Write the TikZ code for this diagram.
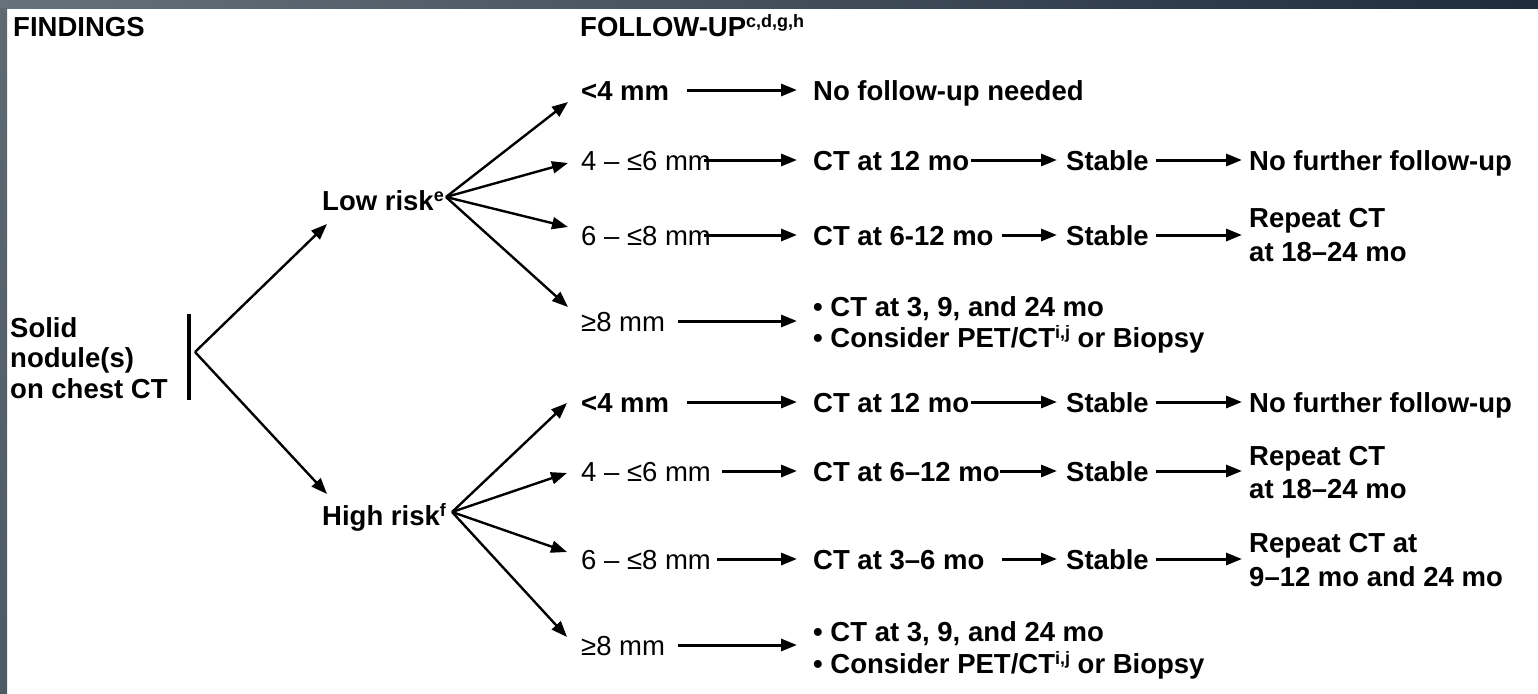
\documentclass[tikz,border=0pt]{standalone}
\usepackage{fontspec}
\setmainfont{Liberation Sans}
\usetikzlibrary{arrows.meta}
\newcommand\sups[1]{\raisebox{9pt}{\fontsize{18}{18}\selectfont #1}}
\begin{document}
\begin{tikzpicture}[x=1pt,y=-1pt,
  bt/.style={anchor=base west, inner sep=0, font=\fontsize{27.5}{32}\selectfont\bfseries},
  rt/.style={anchor=base west, inner sep=0, font=\fontsize{27.5}{32}\selectfont},
  ml/.style={anchor=north west, inner sep=0, align=left, font=\fontsize{27.5}{#1}\selectfont\bfseries},
  arr/.style={line width=3pt, -{Triangle[length=16pt,width=12pt]}},
  br/.style={line width=2.4pt, -{Triangle[length=16pt,width=12pt]}},
]
\useasboundingbox (0,0) rectangle (1538,693);
\fill[white] (0,0) rectangle (1538,693);
\shade[left color={rgb,255:red,102;green,114;blue,123}, right color={rgb,255:red,31;green,44;blue,59}] (0,0) rectangle (1538,8.5);
\shade[top color={rgb,255:red,94;green,105;blue,114}, bottom color={rgb,255:red,78;green,90;blue,100}] (0,8.5) rectangle (7,693);

% headers
\node[bt] (find) at (13,37) {FINDINGS};
\node[bt] (fup) at (580,37) {FOLLOW-UP\sups{c,d,g,h}};

% root
\node[ml=30.5] (solid) at (10,317) {Solid\\nodule(s)\\on chest CT};
\draw[line width=3.2pt] (189,314) -- (189,400);
\coordinate (apex) at (195,352);

\node[bt] (low) at (322,210) {Low risk\sups{e}};
\node[bt] (high) at (322,525) {High risk\sups{f}};
\draw[br] (apex) -- ([shift={(5,14)}]low.base west);
\draw[br] (apex) -- ([shift={(5,-31)}]high.base west);
\coordinate (lof) at ([shift={(2,-13)}]low.base east);
\coordinate (hif) at ([shift={(6,-13)}]high.base east);

% low risk rows
\node[bt] (l1) at (581,100) {<4 mm};
\node[rt] (l2) at (581,170) {4 – ≤6 mm};
\node[rt] (l3) at (581,245) {6 – ≤8 mm};
\node[rt] (l4) at (581,331) {≥8 mm};
\draw[br] (lof) -- ([shift={(-13,2)}]l1.base west);
\draw[br] (lof) -- ([shift={(-13,-7)}]l2.base west);
\draw[br] (lof) -- ([shift={(-13,-18)}]l3.base west);
\draw[br] (lof) -- ([shift={(-13,-24)}]l4.base west);

\node[bt] (l1b) at (813,100) {No follow-up needed};
\node[bt] (l2b) at (813,170) {CT at 12 mo};
\node[bt] (l3b) at (813,245) {CT at 6-12 mo};
\node[ml=31] (l4b) at (813,296) {• CT at 3, 9, and 24 mo\\• Consider PET/CT\sups{i,j} or Biopsy};
\draw[arr] ([shift={(18,-10)}]l1.base east) -- ([shift={(-16,-10)}]l1b.base west);
\draw[arr] ([shift={(-7,-10)}]l2.base east) -- ([shift={(-16,-10)}]l2b.base west);
\draw[arr] ([shift={(-7,-10)}]l3.base east) -- ([shift={(-16,-10)}]l3b.base west);
\draw[arr] ([shift={(13,-10)}]l4.base east) -- ([shift={(-16,-10)}]l4.base east -| l4b.west);

\node[bt] (l2c) at (1066,170) {Stable};
\node[bt] (l3c) at (1066,245) {Stable};
\draw[arr] ([shift={(2,-10)}]l2b.base east) -- ([shift={(-9,-10)}]l2c.base west);
\draw[arr] ([shift={(8,-10)}]l3b.base east) -- ([shift={(-9,-10)}]l3c.base west);

\node[bt] (l2d) at (1249,170) {No further follow-up};
\node[ml=34] (l3d) at (1249,208) {Repeat CT\\at 18–24 mo};
\draw[arr] ([shift={(7,-10)}]l2c.base east) -- ([shift={(-7,-10)}]l2d.base west);
\draw[arr] ([shift={(7,-10)}]l3c.base east) -- ([shift={(-7,-10)}]l3c.base east -| l3d.west);

% high risk rows
\node[bt] (h1) at (581,412) {<4 mm};
\node[rt] (h2) at (581,481) {4 – ≤6 mm};
\node[rt] (h3) at (581,569) {6 – ≤8 mm};
\node[rt] (h4) at (581,655) {≥8 mm};
\draw[br] (hif) -- ([shift={(-14,-9)}]h1.base west);
\draw[br] (hif) -- ([shift={(-14,-8)}]h2.base west);
\draw[br] (hif) -- ([shift={(-14,-17)}]h3.base west);
\draw[br] (hif) -- ([shift={(-14,-18)}]h4.base west);

\node[bt] (h1b) at (813,412) {CT at 12 mo};
\node[bt] (h2b) at (813,481) {CT at 6–12 mo};
\node[bt] (h3b) at (813,569) {CT at 3–6 mo};
\node[ml=32] (h4b) at (813,621) {• CT at 3, 9, and 24 mo\\• Consider PET/CT\sups{i,j} or Biopsy};
\draw[arr] ([shift={(18,-10)}]h1.base east) -- ([shift={(-16,-10)}]h1b.base west);
\draw[arr] ([shift={(11,-10)}]h2.base east) -- ([shift={(-16,-10)}]h2b.base west);
\draw[arr] ([shift={(6,-10)}]h3.base east) -- ([shift={(-16,-10)}]h3b.base west);
\draw[arr] ([shift={(13,-10)}]h4.base east) -- ([shift={(-16,-10)}]h4.base east -| h4b.west);

\node[bt] (h1c) at (1066,412) {Stable};
\node[bt] (h2c) at (1066,481) {Stable};
\node[bt] (h3c) at (1066,569) {Stable};
\draw[arr] ([shift={(2,-10)}]h1b.base east) -- ([shift={(-9,-10)}]h1c.base west);
\draw[arr] ([shift={(0,-10)}]h2b.base east) -- ([shift={(-9,-10)}]h2c.base west);
\draw[arr] ([shift={(17,-10)}]h3b.base east) -- ([shift={(-9,-10)}]h3c.base west);

\node[bt] (h1d) at (1249,412) {No further follow-up};
\node[ml=33] (h2d) at (1249,446) {Repeat CT\\at 18–24 mo};
\node[ml=34] (h3d) at (1249,533) {Repeat CT at\\9–12 mo and 24 mo};
\draw[arr] ([shift={(7,-10)}]h1c.base east) -- ([shift={(-7,-10)}]h1d.base west);
\draw[arr] ([shift={(7,-10)}]h2c.base east) -- ([shift={(-7,-10)}]h2c.base east -| h2d.west);
\draw[arr] ([shift={(7,-10)}]h3c.base east) -- ([shift={(-7,-10)}]h3c.base east -| h3d.west);
\end{tikzpicture}
\end{document}
